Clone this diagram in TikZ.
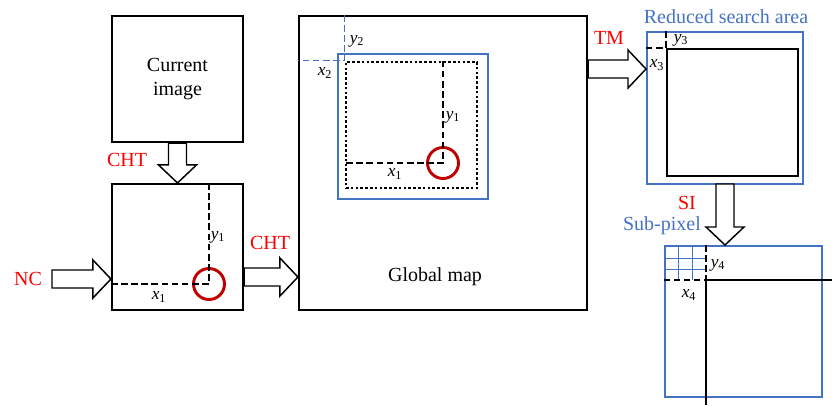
\documentclass[tikz,border=0pt]{standalone}
\usepackage{fontspec}
\setmainfont{Liberation Serif}
\usepackage{xcolor}
\usepackage{tikz}
\usetikzlibrary{calc}
\definecolor{areaBlue}{RGB}{68,114,196}
\definecolor{stepRed}{RGB}{255,0,0}
\definecolor{markRed}{RGB}{192,0,0}

% block arrows: start, tip
\newcommand{\fatright}[2]{%
  \draw[fatarrow] ($(#1)+(0,-9)$) -- ($(#2)+(-18,-9)$) -- ($(#2)+(-18,-19)$) -- (#2)
  -- ($(#2)+(-18,19)$) -- ($(#2)+(-18,9)$) -- ($(#1)+(0,9)$) -- cycle;}
\newcommand{\fatdown}[2]{%
  \draw[fatarrow] ($(#1)+(-9,0)$) -- ($(#2)+(-9,-18)$) -- ($(#2)+(-19,-18)$) -- (#2)
  -- ($(#2)+(19,-18)$) -- ($(#2)+(9,-18)$) -- ($(#1)+(9,0)$) -- cycle;}

\tikzset{
  box/.style 2 args={draw, line width=1.6pt, minimum width=#1*0.75pt,
    minimum height=#2*0.75pt, inner sep=0pt},
  bluebox/.style 2 args={box={#1}{#2}, draw=areaBlue, line width=1.5pt},
  fatarrow/.style={draw, fill=white, line width=1.1pt, line join=miter},
  steplabel/.style={text=stepRed, font=\fontsize{15}{17}\selectfont, inner sep=0pt},
  arealabel/.style={text=areaBlue, font=\fontsize{15}{17}\selectfont, inner sep=0pt},
  varlabel/.style={font=\fontsize{13}{15}\selectfont, inner sep=0pt},
  offset/.style={dash pattern=on 5pt off 2.6pt, line width=1.4pt},
  target/.style={circle, draw=markRed, line width=2.2pt, minimum size=31*0.75pt, inner sep=0pt},
}

\begin{document}
\begin{tikzpicture}[x=0.75pt, y=-0.75pt]
\useasboundingbox (0,0) rectangle (832,405);

% left column
\node[box={131}{126}, align=center, font=\fontsize{15}{18}\selectfont] (cur) at (177.5,79) {Current\\image};
\node[box={131}{126}] (det) at (177.5,247) {};
\node[target] (detc) at (209,284) {};
\draw[offset] (det.north -| detc.center) -- (detc.center) -- (det.west |- detc.center);
\node[varlabel] (dety) at (218,237) {\textit{y}\textsubscript{1}};
\node[varlabel] (detx) at (159,297) {\textit{x}\textsubscript{1}};

\fatdown{cur.south}{det.north}
\node[steplabel] (cht1) at (127,160) {CHT};
\coordinate (ncin) at (52,279);
\fatright{ncin}{det.west |- ncin}
\node[steplabel] (nc) at (28,279) {NC};

% global map
\node[box={288}{294}] (glob) at (443,163) {};
\node[font=\fontsize{15}{17}\selectfont] (globtext) at (435,277) {Global map};
\node[bluebox={150}{145}] (area) at (413,126.5) {};
\node[box={131}{126}, line width=2pt, dash pattern=on 2pt off 1.6pt] (tmpl) at (411.5,125) {};
\draw[offset, draw=areaBlue, line width=1.1pt] (glob.north -| tmpl.north west) -- (tmpl.north west) -- (glob.west |- tmpl.north west);
\node[varlabel] (globy) at (357,41) {\textit{y}\textsubscript{2}};
\node[varlabel] (globx) at (325,73) {\textit{x}\textsubscript{2}};
\node[target] (globc) at (443,163) {};
\draw[offset] (tmpl.north -| globc.center) -- (globc.center) -- (tmpl.west |- globc.center);
\node[varlabel] (tmply) at (453,117) {\textit{y}\textsubscript{1}};
\node[varlabel] (tmplx) at (395,174) {\textit{x}\textsubscript{1}};

\coordinate (chtin) at (det.east |- 0,277);
\fatright{chtin}{glob.west |- chtin}
\node[steplabel] (cht2) at (270,243) {CHT};

% reduced search area
\node[bluebox={156}{152}] (red) at (725,108) {};
\node[arealabel] (redtext) at (726,17) {Reduced search area};
\node[box={131}{127}] (inner) at (732.5,112.5) {};
\draw[offset] (red.north -| inner.north west) -- (inner.north west) -- (red.west |- inner.north west);
\node[varlabel] (redy) at (681,40) {\textit{y}\textsubscript{3}};
\node[varlabel] (redx) at (657,65) {\textit{x}\textsubscript{3}};

\coordinate (tmin) at (glob.east |- 0,69);
\fatright{tmin}{red.west |- tmin}
\node[steplabel] (tm) at (609,38) {TM};

% sub-pixel
\node[bluebox={157}{151}] (sub) at (743.5,321.5) {};
\node[arealabel] (subtext) at (662,226) {Sub-pixel};
\coordinate (subc) at (706,280);
\foreach \gx in {678,692} \draw[areaBlue, line width=0.6pt] (\gx,246) -- (\gx,280);
\foreach \gy in {258,269} \draw[areaBlue, line width=0.6pt] (665,\gy) -- (706,\gy);
\draw[offset] (sub.north -| subc) -- (subc) -- (sub.west |- subc);
\draw[line width=1.6pt] (subc |- 0,405) -- (subc) -- (832,280);
\node[varlabel] (suby) at (718,265) {\textit{y}\textsubscript{4}};
\node[varlabel] (subx) at (689,295) {\textit{x}\textsubscript{4}};

\coordinate (siin) at (725,184);
\fatdown{siin}{sub.north -| siin}
\node[steplabel] (si) at (687,203) {SI};

;
\end{tikzpicture}
\end{document}
